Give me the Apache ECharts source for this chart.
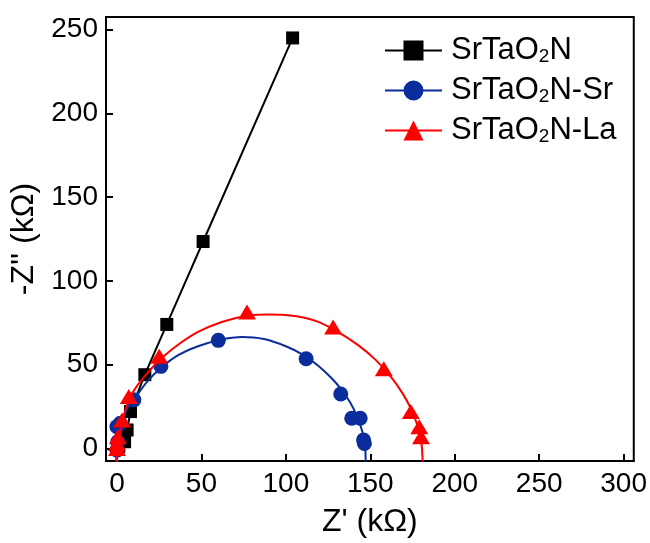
<!DOCTYPE html>
<html>
<head>
<meta charset="utf-8">
<script src="https://cdn.jsdelivr.net/npm/echarts@6/dist/echarts.min.js"></script>
<style>html,body{margin:0;padding:0;background:#fff}#c{width:650px;height:543px}</style>
</head>
<body>
<div id="c"></div>
<script>
const seriesNames = ['SrTaO2N', 'SrTaO2N-Sr', 'SrTaO2N-La'];
const xTicks = [0, 50, 100, 150, 200, 250, 300];
const yTicks = [0, 50, 100, 150, 200, 250];

// SrTaO2N (black squares, joined by line)
const blackPts = [[1,1],[4.5,4],[6,11],[8,22],[16.5,44],[29.5,74],[51,123.5],[104,245]];

// SrTaO2N-Sr (blue circles) and its fitted arc
const bluePts = [[0,-1],[0.5,4],[0,13],[2,15],[10,29],[26,49],[60,64.5],[112,53.5],[132.5,32.5],[139,18],[144,18],[146,5],[146.5,3]];
const blueArc = [[-0.5,-8],[0,0],[1,11],[2.5,16],[5,21.5],[8,26.5],[12,32],[18,40],[26,48],[36,55.5],[48,61],[61,64.8],[74,66.5],[87,65.3],[100,61],[110,56],[119,49.5],[127,42],[133,35],[138,27.5],[142,19.5],[145,11],[146.8,3],[147.3,-8]];

// SrTaO2N-La (red triangles) and its fitted arc
const redPts = [[0,0],[0,3],[0.5,7],[3,17],[7,31],[25,55],[77,81.5],[128,72.5],[158,47.5],[174,22],[179,13],[180,7]];
const redArc = [[0,-8],[0.5,0],[1.5,8],[3,16],[5,23],[8,31],[12,37.5],[18,45],[25,52.5],[35,61],[48,69.5],[62,75.5],[77,79.2],[90,80],[104,79.2],[118,76],[130,70],[143,61.5],[153,53],[162,43],[169,33],[174,23.8],[177.5,15],[179.5,8],[180.6,0],[181,-8]];

const FONT = "'Liberation Sans', Arial, sans-serif";
const BLUE = '#0b2d9b';
const RED = '#ff0000';

const chart = echarts.init(document.getElementById('c'), null, {renderer: 'canvas'});
chart.setOption({
  animation: false,
  backgroundColor: '#fff',
  grid: {left: 106, top: 17, right: 15, bottom: 80, show: true, borderColor: '#000', borderWidth: 2},
  legend: {
    data: seriesNames,
    orient: 'vertical',
    left: 379,
    top: 30,
    itemWidth: 57,
    itemHeight: 25,
    itemGap: 9,
    formatter: n => n.replace('O2N', 'O{sub|2}N'),
    textStyle: {
      fontFamily: FONT, fontSize: 31, color: '#000', padding: [0, 0, 0, 4],
      rich: {sub: {fontFamily: FONT, fontSize: 19, verticalAlign: 'bottom', padding: [12, 0, 0, 0], color: '#000'}}
    }
  },
  xAxis: {
    type: 'value', min: -6.5, max: 306,
    name: "Z' (kΩ)", nameLocation: 'middle', nameGap: 45,
    nameTextStyle: {fontFamily: FONT, fontSize: 32, color: '#000'},
    axisLine: {onZero: false, lineStyle: {color: '#000', width: 2}},
    axisTick: {inside: true, length: 7, lineStyle: {color: '#000', width: 2}},
    axisLabel: {fontFamily: FONT, fontSize: 28, color: '#000', margin: 9, showMinLabel: false, showMaxLabel: false,
      formatter: v => xTicks.includes(v) ? String(v) : ''},
    splitLine: {show: false}
  },
  yAxis: {
    type: 'value', min: -7.5, max: 257.5,
    name: "-Z'' (kΩ)", nameLocation: 'middle', nameGap: 57,
    nameTextStyle: {fontFamily: FONT, fontSize: 32, color: '#000'},
    axisLine: {onZero: false, lineStyle: {color: '#000', width: 2}},
    axisTick: {inside: true, length: 7, lineStyle: {color: '#000', width: 2}},
    axisLabel: {fontFamily: FONT, fontSize: 28, color: '#000', margin: 8, showMinLabel: false, showMaxLabel: false,
      formatter: v => yTicks.includes(v) ? String(v) : ''},
    splitLine: {show: false}
  },
  series: [
    {name: seriesNames[0], type: 'line', data: blackPts, symbol: 'rect', symbolSize: 13,
      itemStyle: {color: '#000'}, lineStyle: {color: '#000', width: 2}, z: 2},
    {name: seriesNames[1], type: 'line', data: blueArc, symbol: 'circle', showSymbol: false, smooth: 0.25,
      itemStyle: {color: BLUE}, lineStyle: {color: BLUE, width: 2}, z: 3},
    {name: seriesNames[1], type: 'scatter', data: bluePts, symbol: 'circle', symbolSize: 15,
      itemStyle: {color: BLUE, opacity: 1}, z: 4},
    {name: seriesNames[2], type: 'line', data: redArc, symbol: 'triangle', showSymbol: false, smooth: 0.25,
      itemStyle: {color: RED}, lineStyle: {color: RED, width: 2}, z: 5},
    {name: seriesNames[2], type: 'scatter', data: redPts, symbol: 'triangle', symbolSize: [18, 15],
      itemStyle: {color: RED, opacity: 1}, z: 6}
  ]
});
</script>
</body>
</html>
